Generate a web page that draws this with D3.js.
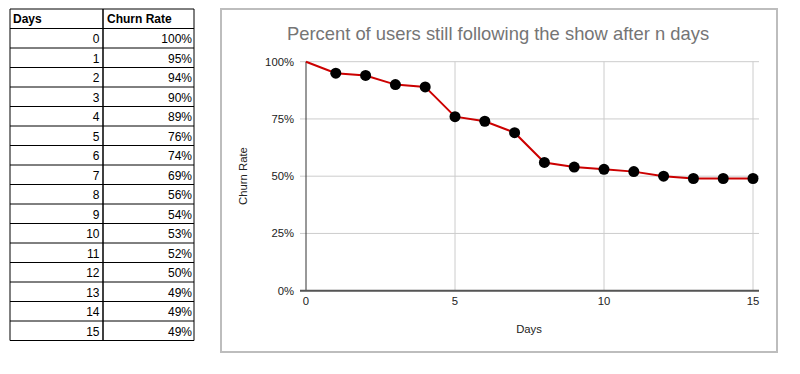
<!DOCTYPE html>
<html>
<head>
<meta charset="utf-8">
<script src="https://cdn.jsdelivr.net/npm/d3@7"></script>
<style>
  body { margin: 0; background: #fff; }
  svg { display: block; font-family: "Liberation Sans", Arial, sans-serif; }
</style>
</head>
<body>
<div id="chart"></div>
<script>
var days = [0, 1, 2, 3, 4, 5, 6, 7, 8, 9, 10, 11, 12, 13, 14, 15];
var churn = [100, 95, 94, 90, 89, 76, 74, 69, 56, 54, 53, 52, 50, 49, 49, 49];
var headers = ["Days", "Churn Rate"];
var xTicks = [0, 5, 10, 15];
var yTicks = [0, 25, 50, 75, 100];

var svg = d3.select("#chart")
  .append("svg")
  .attr("width", 800)
  .attr("height", 374);

svg.append("rect")
  .attr("width", 800).attr("height", 374)
  .attr("fill", "#fff");

// ---- table on the left
var tx0 = 10, tx1 = 103, tx2 = 194, ty0 = 9, rowH = 19.5;
var table = svg.append("g");

table.selectAll("line.h")
  .data(d3.range(days.length + 2))
  .enter().append("line")
  .attr("x1", tx0).attr("x2", tx2)
  .attr("y1", function (d) { return ty0 + d * rowH; })
  .attr("y2", function (d) { return ty0 + d * rowH; })
  .attr("stroke", "#000").attr("stroke-width", 1);

[tx0, tx1, tx2].forEach(function (x, i) {
  table.append("line")
    .attr("x1", x).attr("x2", x)
    .attr("y1", ty0).attr("y2", ty0 + (days.length + 1) * rowH)
    .attr("stroke", "#000").attr("stroke-width", i == 1 ? 1.5 : 1);
});

table.selectAll("text.head")
  .data(headers)
  .enter().append("text")
  .attr("x", function (d, i) { return i == 0 ? tx0 + 3 : tx1 + 4; })
  .attr("y", ty0 + 14)
  .attr("font-size", "12px")
  .attr("font-weight", "bold")
  .text(function (d) { return d; });

table.selectAll("text.day")
  .data(days)
  .enter().append("text")
  .attr("x", tx1 - 3.5)
  .attr("y", function (d, i) { return ty0 + (i + 1) * rowH + 14.5; })
  .attr("text-anchor", "end")
  .attr("font-size", "12px")
  .text(function (d) { return d; });

table.selectAll("text.val")
  .data(churn)
  .enter().append("text")
  .attr("x", tx2 - 2)
  .attr("y", function (d, i) { return ty0 + (i + 1) * rowH + 14.5; })
  .attr("text-anchor", "end")
  .attr("font-size", "12px")
  .text(function (d) { return d + "%"; });

// ---- chart box
svg.append("rect")
  .attr("x", 221).attr("y", 9)
  .attr("width", 556).attr("height", 343)
  .attr("fill", "#fff")
  .attr("stroke", "#bdbdbd").attr("stroke-width", 2);

svg.append("text")
  .attr("x", 498).attr("y", 40)
  .attr("text-anchor", "middle")
  .attr("font-size", "18.4px")
  .attr("fill", "#757575")
  .text("Percent of users still following the show after n days");

var x = d3.scaleLinear().domain([0, 15]).range([306, 753]);
var y = d3.scaleLinear().domain([0, 100]).range([290.7, 61.7]);
var plotRight = 759;

var g = svg.append("g");

// horizontal grid
g.selectAll("line.hg")
  .data(yTicks)
  .enter().append("line")
  .attr("x1", 300).attr("x2", plotRight)
  .attr("y1", function (d) { return y(d); })
  .attr("y2", function (d) { return y(d); })
  .attr("stroke", "#ccc").attr("stroke-width", 1);

// vertical grid
g.selectAll("line.vg")
  .data(xTicks.slice(1))
  .enter().append("line")
  .attr("x1", function (d) { return x(d); })
  .attr("x2", function (d) { return x(d); })
  .attr("y1", y(100)).attr("y2", y(0))
  .attr("stroke", "#ccc").attr("stroke-width", 1);

// axes lines
g.append("line")
  .attr("x1", x(0)).attr("x2", x(0))
  .attr("y1", y(100)).attr("y2", y(0))
  .attr("stroke", "#333").attr("stroke-width", 1);
g.append("line")
  .attr("x1", 300).attr("x2", plotRight)
  .attr("y1", y(0)).attr("y2", y(0))
  .attr("stroke", "#555").attr("stroke-width", 2);

g.selectAll("text.yt")
  .data(yTicks)
  .enter().append("text")
  .attr("x", 294)
  .attr("y", function (d) { return y(d) + 4; })
  .attr("text-anchor", "end")
  .attr("font-size", "11.3px")
  .attr("fill", "#222")
  .text(function (d) { return d + "%"; });

g.selectAll("text.xt")
  .data(xTicks)
  .enter().append("text")
  .attr("x", function (d) { return x(d); })
  .attr("y", 305)
  .attr("text-anchor", "middle")
  .attr("font-size", "11.3px")
  .attr("fill", "#222")
  .text(function (d) { return d; });

svg.append("text")
  .attr("transform", "translate(247,176) rotate(-90)")
  .attr("text-anchor", "middle")
  .attr("font-size", "11.3px")
  .attr("fill", "#222")
  .text("Churn Rate");

svg.append("text")
  .attr("x", 529).attr("y", 333)
  .attr("text-anchor", "middle")
  .attr("font-size", "11.3px")
  .attr("fill", "#222")
  .text("Days");

// line + markers
var pts = days.map(function (d, i) { return [d, churn[i]]; });
var line = d3.line()
  .x(function (d) { return x(d[0]); })
  .y(function (d) { return y(d[1]); });

g.append("path")
  .datum(pts)
  .attr("d", line)
  .attr("fill", "none")
  .attr("stroke", "#cc0000")
  .attr("stroke-width", 2);

g.selectAll("circle")
  .data(pts.slice(1))
  .enter().append("circle")
  .attr("cx", function (d) { return x(d[0]); })
  .attr("cy", function (d) { return y(d[1]); })
  .attr("r", 5.5)
  .attr("fill", "#000");
</script>
</body>
</html>
